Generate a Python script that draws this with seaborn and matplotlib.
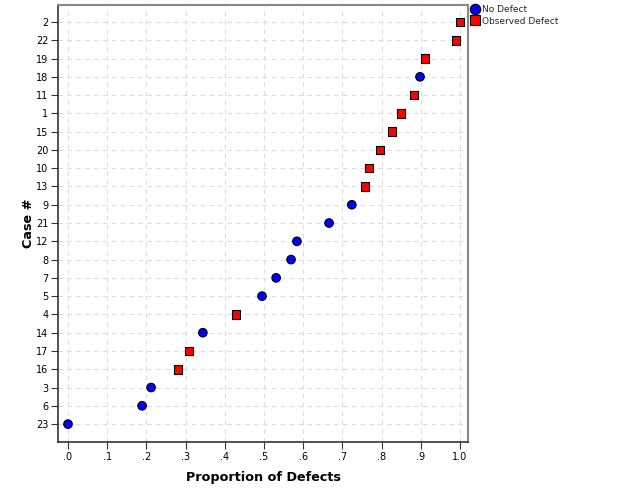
import matplotlib
matplotlib.use("Agg")
import matplotlib.pyplot as plt
import seaborn as sns
import pandas as pd

# Cases listed bottom-to-top
cases = ["23", "6", "3", "16", "17", "14", "4", "5", "7", "8", "12", "21",
         "9", "13", "10", "20", "15", "1", "11", "18", "19", "22", "2"]
proportions = [0.0, 0.189, 0.212, 0.281, 0.309, 0.344, 0.429, 0.495, 0.531,
               0.569, 0.584, 0.666, 0.724, 0.758, 0.768, 0.796, 0.827, 0.849,
               0.883, 0.898, 0.911, 0.99, 1.0]
status = ["No Defect", "No Defect", "No Defect", "Observed Defect", "Observed Defect",
          "No Defect", "Observed Defect", "No Defect", "No Defect", "No Defect",
          "No Defect", "No Defect", "No Defect", "Observed Defect", "Observed Defect",
          "Observed Defect", "Observed Defect", "Observed Defect", "Observed Defect",
          "No Defect", "Observed Defect", "Observed Defect", "Observed Defect"]
x_ticks = [0.0, 0.1, 0.2, 0.3, 0.4, 0.5, 0.6, 0.7, 0.8, 0.9, 1.0]
x_tick_labels = [".0", ".1", ".2", ".3", ".4", ".5", ".6", ".7", ".8", ".9", "1.0"]

df = pd.DataFrame({"case": cases, "prop": proportions, "status": status})
df["pos"] = range(len(cases))

sns.set_style("white")
plt.rcParams["font.family"] = ["DejaVu Sans"]

fig = plt.figure(figsize=(6.25, 5), dpi=100)
ax = fig.add_axes([58/625, 1-442/500, (468-58)/625, (442-5)/500])

palette = {"No Defect": "#0000ff", "Observed Defect": "#ff0000"}
markers = {"No Defect": "o", "Observed Defect": "s"}
sns.scatterplot(data=df, x="prop", y="pos", hue="status", style="status",
                palette=palette, markers=markers, s=38, edgecolor="black",
                linewidth=0.8, ax=ax, zorder=3,
                hue_order=["No Defect", "Observed Defect"],
                style_order=["No Defect", "Observed Defect"])

ax.set_xlim(-0.0255, 1.0204)
ax.set_ylim(-0.98, 22.93)
ax.set_xticks(x_ticks)
ax.set_xticklabels(x_tick_labels, fontsize=7)
ax.set_yticks(range(len(cases)))
ax.set_yticklabels(cases, fontsize=7)
ax.tick_params(axis="both", which="both", direction="out", length=5, width=0.8,
               color="#333333", bottom=True, left=True, pad=2, labelcolor="black")

ax.grid(True, linestyle=(0, (4, 4)), color="#dcdcdc", linewidth=0.8, zorder=0)
ax.set_axisbelow(True)
for side in ["top", "right"]:
    ax.spines[side].set_color("#888888")
    ax.spines[side].set_linewidth(1.5)
for side in ["left", "bottom"]:
    ax.spines[side].set_color("#333333")
    ax.spines[side].set_linewidth(1.2)

ax.set_xlabel("Proportion of Defects", fontsize=9.2, fontweight="bold", labelpad=6.5,
              color="black")
ax.set_ylabel("Case #", fontsize=9.2, fontweight="bold", labelpad=0.5, color="black")

handles, labels = ax.get_legend_handles_labels()
for h in handles:
    h.set_markersize(7.5)
    h.set_markeredgecolor("black")
ax.legend(handles, labels, loc="upper left", bbox_to_anchor=(468/625, 1-3/500),
          bbox_transform=fig.transFigure, frameon=False, fontsize=6.5,
          handletextpad=0.2, borderpad=0.2, labelspacing=0.3, handlelength=1.2,
          borderaxespad=0)

fig.savefig("out.png", dpi=100)
